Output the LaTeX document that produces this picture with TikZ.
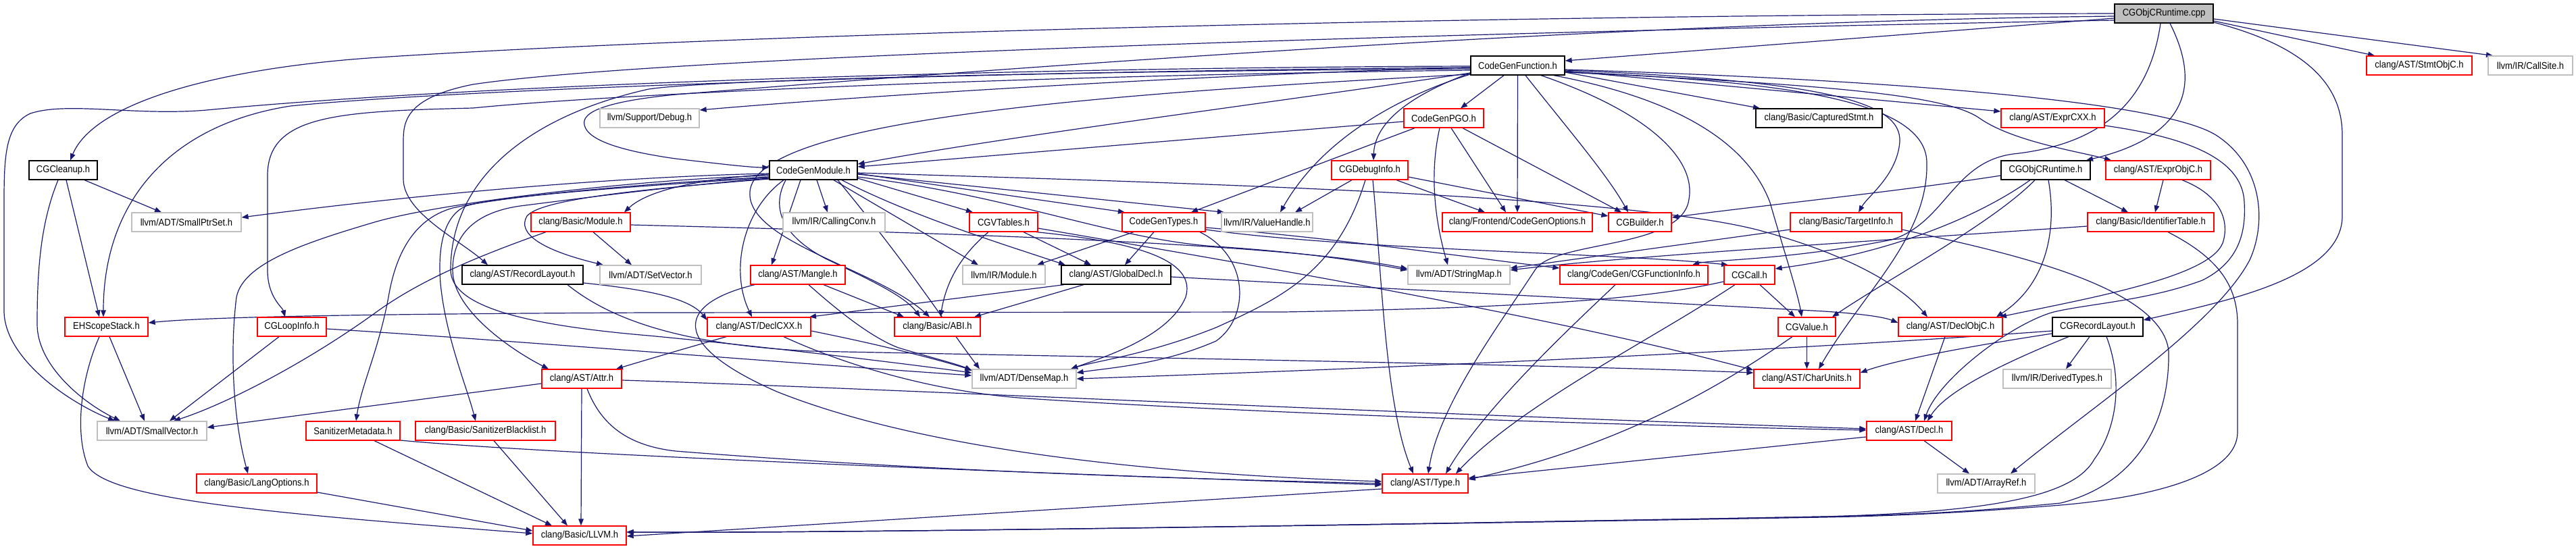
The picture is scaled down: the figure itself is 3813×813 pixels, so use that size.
\documentclass[tikz,border=0pt]{standalone}
\usepackage{fontspec}
\setmainfont{Liberation Sans}[FakeStretch=0.9]
\usetikzlibrary{arrows.meta,calc}
\definecolor{edgec}{HTML}{191970}
\definecolor{grayb}{HTML}{BFBFBF}
\pgfdeclarelayer{bg}
\pgfsetlayers{bg,main}
\begin{document}
\begin{tikzpicture}[x=0.5pt,y=-0.5pt,
  nd/.style={draw, line width=0.65pt, fill=white, minimum height=14pt, inner sep=0pt, font=\fontsize{7.25pt}{8pt}\selectfont},
  rbox/.style={nd, draw=red},
  gbox/.style={nd, draw=grayb},
  bbox/.style={nd, draw=black},
  root/.style={nd, draw=black, fill=grayb},
  edg/.style={draw=edgec, line width=0.6pt, -{Triangle[length=5pt,width=3.8pt]}}]
\useasboundingbox (0,0) rectangle (3813,813);
% row 0
\node[root, minimum width=73pt] (cpp) at (3203,20) {CGObjCRuntime.cpp};
% row 1
\node[bbox, minimum width=69.5pt] (cgf) at (2246.5,97) {CodeGenFunction.h};
\node[rbox, minimum width=78pt] (stmt) at (3581,97) {clang/AST/StmtObjC.h};
\node[gbox, minimum width=62.5pt] (callsite) at (3745.5,97) {llvm/IR/CallSite.h};
% row 2
\node[gbox, minimum width=73.5pt] (debug) at (961.5,175) {llvm/Support/Debug.h};
\node[rbox, minimum width=59pt] (pgo) at (2137,175) {CodeGenPGO.h};
\node[bbox, minimum width=93.5pt] (capt) at (2692.5,175) {clang/Basic/CapturedStmt.h};
\node[rbox, minimum width=76.5pt] (excxx) at (3038.5,175) {clang/AST/ExprCXX.h};
% row 3
\node[bbox, minimum width=50.5pt] (cleanup) at (93.5,252) {CGCleanup.h};
\node[bbox, minimum width=65pt] (cgm) at (1204,252) {CodeGenModule.h};
\node[rbox, minimum width=56.5pt] (dbginfo) at (2027.5,252) {CGDebugInfo.h};
\node[bbox, minimum width=66pt] (ortH) at (3028,252) {CGObjCRuntime.h};
\node[rbox, minimum width=77.5pt] (exobjc) at (3194.5,252) {clang/AST/ExprObjC.h};
% row 4
\node[gbox, minimum width=81pt] (sptr) at (276,329) {llvm/ADT/SmallPtrSet.h};
\node[rbox, minimum width=73.5pt] (module) at (859.5,329) {clang/Basic/Module.h};
\node[gbox, minimum width=75.5pt] (cconv) at (1234.5,329) {llvm/IR/CallingConv.h};
\node[rbox, minimum width=50.5pt] (vtables) at (1485.5,329) {CGVTables.h};
\node[rbox, minimum width=61.5pt] (types) at (1722.5,329) {CodeGenTypes.h};
\node[gbox, minimum width=67.5pt] (vhandle) at (1875.5,329) {llvm/IR/ValueHandle.h};
\node[rbox, minimum width=111pt] (cgopts) at (2246,329) {clang/Frontend/CodeGenOptions.h};
\node[rbox, minimum width=46.5pt] (builder) at (2427.5,329) {CGBuilder.h};
\node[rbox, minimum width=82.5pt] (target) at (2732.5,329) {clang/Basic/TargetInfo.h};
\node[rbox, minimum width=93.5pt] (ident) at (3183.5,329) {clang/Basic/IdentifierTable.h};
% row 5
\node[bbox, minimum width=89.5pt] (rlayout) at (773.5,407) {clang/AST/RecordLayout.h};
\node[gbox, minimum width=75pt] (setvec) at (963,407) {llvm/ADT/SetVector.h};
\node[rbox, minimum width=70pt] (mangle) at (1181,407) {clang/AST/Mangle.h};
\node[gbox, minimum width=61pt] (irmodule) at (1486,407) {llvm/IR/Module.h};
\node[bbox, minimum width=81pt] (gdecl) at (1652,407) {clang/AST/GlobalDecl.h};
\node[gbox, minimum width=75.5pt] (smap) at (2159.5,407) {llvm/ADT/StringMap.h};
\node[rbox, minimum width=109.5pt] (finfo) at (2418.5,407) {clang/CodeGen/CGFunctionInfo.h};
\node[rbox, minimum width=37.5pt] (cgcall) at (2589.5,407) {CGCall.h};
% row 6
\node[rbox, minimum width=61.5pt] (ehs) at (157.5,484) {EHScopeStack.h};
\node[rbox, minimum width=51pt] (loop) at (432,484) {CGLoopInfo.h};
\node[rbox, minimum width=76.5pt] (declcxx) at (1123.5,484) {clang/AST/DeclCXX.h};
\node[rbox, minimum width=63.5pt] (abi) at (1387.5,484) {clang/Basic/ABI.h};
\node[rbox, minimum width=42.5pt] (cgvalue) at (2674.5,484) {CGValue.h};
\node[rbox, minimum width=77pt] (declobjc) at (2887,484) {clang/AST/DeclObjC.h};
\node[bbox, minimum width=67pt] (cgrl) at (3105,484) {CGRecordLayout.h};
% row 7
\node[rbox, minimum width=59pt] (attr) at (861,561) {clang/AST/Attr.h};
\node[gbox, minimum width=77pt] (dmap) at (1516,561) {llvm/ADT/DenseMap.h};
\node[rbox, minimum width=78.5pt] (cunits) at (2674.5,561) {clang/AST/CharUnits.h};
\node[gbox, minimum width=80pt] (dtypes) at (3045,561) {llvm/IR/DerivedTypes.h};
% row 8
\node[gbox, minimum width=81pt] (svec) at (225,638) {llvm/ADT/SmallVector.h};
\node[rbox, minimum width=69.5pt] (sanmeta) at (522.5,638) {SanitizerMetadata.h};
\node[rbox, minimum width=103.5pt] (sanbl) at (718.5,638) {clang/Basic/SanitizerBlacklist.h};
\node[rbox, minimum width=63pt] (decl) at (2826,638) {clang/AST/Decl.h};
% row 9
\node[rbox, minimum width=89pt] (langopts) at (380,716) {clang/Basic/LangOptions.h};
\node[rbox, minimum width=63.5pt] (type) at (2109.5,716) {clang/AST/Type.h};
\node[gbox, minimum width=72pt] (aref) at (2940,716) {llvm/ADT/ArrayRef.h};
% row 10
\node[rbox, minimum width=69pt] (llvm) at (858,793) {clang/Basic/LLVM.h};

\begin{pgfonlayer}{bg}
\fill[white] (0,0) rectangle (3813,813);
% ---- CGObjCRuntime.cpp
\draw[edg] (cpp.west |- 0,27) -- (cgf.east |- 0,90);
\draw[edg] (cpp.east |- 0,31) -- (stmt.north -| 3515,0);
\draw[edg] (cpp.east |- 0,28) -- (callsite.north -| 3690,0);
\draw[edg] (cpp.east |- 0,33) .. controls (3420,70) and (3467,130) .. (3467,200) -- (3467,320) .. controls (3467,410) and (3300,445) .. (cgrl.east |- 0,474);
\draw[edg] (cpp.south -| 3212,0) .. controls (3255,120) and (3245,200) .. (ortH.north -| 3088,0);
\draw[edg] (cpp.south -| 3198,0) .. controls (3180,160) and (3100,215) .. (2980,228) .. controls (2890,240) and (2880,330) .. (2800,355) .. controls (2650,385) and (2530,385) .. (finfo.north -| 2505,0);
\draw[edg] (cpp.west |- 0,20) .. controls (2200,22) and (1100,50) .. (560,85) .. controls (330,100) and (140,150) .. (cleanup.north -| 104,0);
\draw[edg] (cpp.west |- 0,30) .. controls (2300,45) and (1000,80) .. (700,125) .. controls (600,145) and (597,180) .. (597,210) -- (597,265) .. controls (597,315) and (680,355) .. (rlayout.north -| 722,0);
\draw[edg] (cpp.west |- 0,24) .. controls (2400,32) and (1500,100) .. (1000,140) .. controls (900,150) and (860,165) .. (865,185) .. controls (870,210) and (930,225) .. (1000,235) .. controls (1060,242) and (1110,248) .. (cgm.west |- 0,248);
% ---- CodeGenFunction.h
\draw[edg] (cgf.south -| 2258,0) .. controls (2320,190) and (2380,260) .. (builder.north -| 2410,0);
\draw[edg] (cgf.west |- 0,108) .. controls (2090,140) and (2035,180) .. (dbginfo.north -| 2033,0);
\draw[edg] (cgf.west |- 0,104) .. controls (1500,112) and (900,140) .. (700,160) .. controls (500,165) and (396,170) .. (396,260) -- (396,400) .. controls (396,440) and (418,455) .. (loop.north -| 422,0);
\draw[edg] (cgf.south -| 2300,0) .. controls (2500,150) and (2590,220) .. (2620,300) .. controls (2640,370) and (2660,430) .. (cgvalue.north -| 2667,0);
\draw[edg] (cgf.west |- 0,108) .. controls (1900,150) and (1500,200) .. (cgm.east |- 0,243);
\draw[edg] (cgf.south -| 2226,0) -- (pgo.north -| 2162,0);
\draw[edg] (cgf.west |- 0,100) .. controls (1500,105) and (700,130) .. (430,157) .. controls (250,185) and (153,300) .. (ehs.north -| 153,0);
\draw[edg] (cgf.east |- 0,106) .. controls (2600,120) and (2850,140) .. (2852,240) .. controls (2855,350) and (2760,430) .. (cunits.north -| 2692,0);
\draw[edg] (cgf.east |- 0,105) -- (excxx.west |- 0,165);
\draw[edg] (cgf.east |- 0,107) .. controls (2700,125) and (2880,140) .. (2930,175) .. controls (2980,210) and (3080,225) .. (exobjc.north -| 3125,0);
\draw[edg] (cgf.south -| 2281,0) .. controls (2450,170) and (2510,240) .. (2500,295) .. controls (2490,370) and (2300,355) .. (2272,400) .. controls (2220,480) and (2130,600) .. (type.north -| 2114,0);
\draw[edg] (cgf.west |- 0,110) .. controls (1600,140) and (1100,180) .. (1110,290) .. controls (1115,360) and (1300,400) .. (abi.north -| 1376,0);
\draw[edg] (cgf.east |- 0,107) -- (capt.north -| 2605,0);
\draw[edg] (cgf.east |- 0,104) .. controls (2700,120) and (2815,150) .. (2812,210) .. controls (2808,260) and (2765,290) .. (target.north -| 2751,0);
\draw[edg] (cgf.south) -- (cgopts.north);
\draw[edg] (cgf.east |- 0,103) .. controls (2800,118) and (3200,150) .. (3280,200) .. controls (3350,245) and (3355,330) .. (3330,385) .. controls (3280,480) and (3100,600) .. (aref.north -| 2976,0);
\draw[edg] (cgf.west |- 0,102) .. controls (1600,105) and (1050,118) .. (960,132) .. controls (790,170) and (667,260) .. (667,400) .. controls (668,450) and (760,480) .. (960,497) .. controls (1150,515) and (1350,540) .. (dmap.west |- 0,552);
\draw[edg] (cgf.west |- 0,98) .. controls (1500,100) and (700,125) .. (306,163) .. controls (200,172) and (100,150) .. (45,168) .. controls (8,185) and (6,230) .. (6,300) -- (6,460) .. controls (6,530) and (100,595) .. (svec.north -| 170,0);
\draw[edg] (cgf.west |- 0,110) .. controls (2080,140) and (1960,200) .. (vhandle.north -| 1895,0);
\draw[edg] (cgf.west |- 0,100) .. controls (1800,110) and (1300,140) .. (debug.east |- 0,163);
% ---- CGCleanup.h
\draw[edg] (cleanup.south -| 98,0) -- (ehs.north -| 147,0);
\draw[edg] (cleanup.south -| 125,0) -- (sptr.north -| 239,0);
\draw[edg] (cleanup.south -| 86,0) .. controls (60,330) and (55,400) .. (55,480) .. controls (55,540) and (120,595) .. (svec.north -| 178,0);
% ---- CodeGenPGO.h
\draw[edg] (pgo.west |- 0,180) -- (cgm.east |- 0,247);
\draw[edg] (pgo.south -| 2094,0) -- (types.north -| 1763,0);
\draw[edg] (pgo.south -| 2148,0) -- (cgopts.north -| 2229,0);
\draw[edg] (pgo.south -| 2165,0) -- (builder.north -| 2400,0);
\draw[edg] (pgo.south -| 2131,0) .. controls (2115,260) and (2125,330) .. (smap.north -| 2143,0);
% ---- CodeGenModule.h
\draw[edg] (cgm.east |- 0,264) -- (vtables.north -| 1440,0);
\draw[edg] (cgm.east |- 0,257) -- (types.north -| 1665,0);
\draw[edg] (cgm.west |- 0,262) .. controls (950,272) and (750,290) .. (670,308) .. controls (610,325) and (585,380) .. (575,440) .. controls (560,520) and (535,570) .. (sanmeta.north -| 527,0);
\draw[edg] (cgm.west |- 0,264) .. controls (1000,275) and (850,295) .. (770,305) .. controls (700,315) and (670,350) .. (670,400) .. controls (670,460) and (760,520) .. (attr.north -| 812,0);
\draw[edg] (cgm.south -| 1160,0) .. controls (1100,310) and (1080,400) .. (declcxx.north -| 1113,0);
\draw[edg] (cgm.east |- 0,256) .. controls (1800,272) and (2400,290) .. (2600,340) .. controls (2750,380) and (2820,430) .. (declobjc.north -| 2853,0);
\draw[edg] (cgm.south -| 1246,0) .. controls (1350,320) and (1480,360) .. (gdecl.north -| 1577,0);
\draw[edg] (cgm.south -| 1185,0) -- (mangle.north -| 1142,0);
\draw[edg] (cgm.south -| 1163,0) .. controls (1140,310) and (1160,350) .. (1222,383) .. controls (1300,420) and (1340,440) .. (abi.north -| 1362,0);
\draw[edg] (cgm.west |- 0,260) .. controls (950,265) and (650,300) .. (551,330) .. controls (450,360) and (360,390) .. (350,440) .. controls (340,520) and (345,620) .. (langopts.north -| 367,0);
\draw[edg] (cgm.west |- 0,258) .. controls (1000,268) and (950,290) .. (module.north -| 924,0);
\draw[edg] (cgm.west |- 0,263) .. controls (950,275) and (740,290) .. (690,305) .. controls (655,320) and (648,370) .. (652,420) .. controls (660,500) and (690,570) .. (sanbl.north -| 704,0);
\draw[edg] (cgm.south -| 1240,0) .. controls (1350,400) and (1400,480) .. (dmap.north -| 1450,0);
\draw[edg] (cgm.west |- 0,265) .. controls (950,280) and (800,295) .. (780,320) .. controls (765,345) and (800,370) .. (setvec.north -| 893,0);
\draw[edg] (cgm.west |- 0,257) .. controls (900,262) and (600,290) .. (sptr.east |- 0,322);
\draw[edg] (cgm.east |- 0,262) .. controls (1500,290) and (1650,355) .. (1800,365) .. controls (1950,375) and (2030,390) .. (smap.west |- 0,400);
\draw[edg] (cgm.south -| 1209,0) -- (cconv.north -| 1225,0);
\draw[edg] (cgm.south -| 1234,0) -- (irmodule.north -| 1448,0);
\draw[edg] (cgm.east |- 0,258) -- (vhandle.north -| 1812,0);
% ---- CGDebugInfo.h
\draw[edg] (dbginfo.east |- 0,262) -- (builder.west |- 0,320);
\draw[edg] (dbginfo.south -| 2032,0) .. controls (2045,400) and (2050,600) .. (type.north -| 2092,0);
\draw[edg] (dbginfo.south -| 2067,0) -- (cgopts.north -| 2198,0);
\draw[edg] (dbginfo.south -| 2021,0) .. controls (1980,400) and (1900,440) .. (1800,485) .. controls (1700,525) and (1620,535) .. (dmap.north -| 1585,0);
\draw[edg] (dbginfo.south -| 2001,0) -- (vhandle.north -| 1917,0);
% ---- CGObjCRuntime.h
\draw[edg] (ortH.west |- 0,260) .. controls (2800,285) and (2600,305) .. (builder.east |- 0,322);
\draw[edg] (ortH.south -| 3005,0) .. controls (2930,320) and (2800,375) .. (cgcall.east |- 0,398);
\draw[edg] (ortH.south -| 3012,0) .. controls (2950,330) and (2800,410) .. (cgvalue.north -| 2712,0);
\draw[edg] (ortH.south -| 3032,0) .. controls (3045,340) and (3030,420) .. (declobjc.north -| 2955,0);
\draw[edg] (ortH.south -| 3056,0) -- (ident.north -| 3150,0);
% ---- ExprCXX / ExprObjC
\draw[edg] (excxx.east |- 0,186) .. controls (3250,205) and (3320,240) .. (3322,300) .. controls (3325,350) and (3310,390) .. (3260,415) .. controls (3180,445) and (3090,450) .. (3040,462) .. controls (2980,478) and (2870,560) .. (decl.north -| 2848,0);
\draw[edg] (exobjc.south -| 3230,0) .. controls (3290,290) and (3300,330) .. (3290,360) .. controls (3270,410) and (3100,440) .. (declobjc.north -| 2960,0);
\draw[edg] (exobjc.south -| 3202,0) -- (ident.north -| 3190,0);
% ---- Module.h
\draw[edg] (module.south -| 878,0) -- (setvec.north -| 935,0);
\draw[edg] (module.south -| 808,0) .. controls (720,375) and (630,410) .. (560,460) .. controls (450,540) and (330,600) .. (svec.north -| 257,0);
\draw[edg] (module.east |- 0,333) .. controls (1400,345) and (1900,360) .. (smap.west |- 0,398);
% ---- CGVTables.h
\draw[edg] (vtables.east |- 0,338) .. controls (1900,400) and (2300,470) .. (cunits.west |- 0,548);
\draw[edg] (vtables.south -| 1515,0) -- (gdecl.north -| 1615,0);
\draw[edg] (vtables.south -| 1463,0) .. controls (1420,380) and (1400,420) .. (abi.north -| 1392,0);
\draw[edg] (vtables.south -| 1534,0) .. controls (1700,360) and (1770,390) .. (1755,440) .. controls (1730,500) and (1630,530) .. (dmap.north -| 1585,0);
% ---- CodeGenTypes.h
\draw[edg] (types.east |- 0,340) .. controls (2000,370) and (2400,375) .. (cgcall.north -| 2558,0);
\draw[edg] (types.south -| 1708,0) -- (gdecl.north -| 1665,0);
\draw[edg] (types.east |- 0,337) .. controls (2000,355) and (2200,385) .. (finfo.west |- 0,397);
\draw[edg] (types.south -| 1776,0) .. controls (1850,380) and (1850,470) .. (1800,505) .. controls (1720,540) and (1640,545) .. (dmap.east |- 0,552);
\draw[edg] (types.south -| 1678,0) -- (irmodule.north -| 1535,0);
% ---- TargetInfo / IdentifierTable
\draw[edg] (target.west |- 0,340) -- (smap.east |- 0,397);
\draw[edg] (target.east |- 0,340) .. controls (2950,370) and (3200,420) .. (3210,520) .. controls (3212,640) and (3150,720) .. (3050,745) .. controls (2900,760) and (2800,763) .. (2700,765) .. controls (2000,778) and (1200,790) .. (llvm.east |- 0,788);
\draw[edg] (ident.west |- 0,335) .. controls (2800,355) and (2400,380) .. (smap.east |- 0,400);
\draw[edg] (ident.south -| 3209,0) .. controls (3280,380) and (3312,420) .. (3312,480) -- (3312,640) .. controls (3312,700) and (3200,735) .. (3050,748) .. controls (2900,760) and (2800,764) .. (2700,766) .. controls (2000,778) and (1200,790) .. (llvm.east |- 0,788);
% ---- RecordLayout.h
\draw[edg] (rlayout.east |- 0,419) .. controls (950,428) and (1020,440) .. (declcxx.west |- 0,474);
\draw[edg] (rlayout.south -| 840,0) .. controls (900,470) and (1000,510) .. (1200,520) .. controls (1700,530) and (2300,540) .. (cunits.west |- 0,552);
% ---- Mangle.h
\draw[edg] (mangle.south -| 1117,0) .. controls (1000,450) and (990,510) .. (1150,580) .. controls (1400,680) and (1800,705) .. (type.west |- 0,713);
\draw[edg] (mangle.south -| 1197,0) .. controls (1240,460) and (1290,500) .. (1330,515) .. controls (1380,530) and (1420,540) .. (dmap.west |- 0,549);
\draw[edg] (mangle.south -| 1219,0) -- (abi.north -| 1338,0);
% ---- GlobalDecl.h
\draw[edg] (gdecl.south -| 1575,0) -- (declcxx.north -| 1198,0);
\draw[edg] (gdecl.south -| 1604,0) -- (abi.north -| 1442,0);
\draw[edg] (gdecl.east |- 0,410) .. controls (2100,430) and (2500,450) .. (2700,461) .. controls (2760,465) and (2790,470) .. (declobjc.west |- 0,478);
% ---- CGFunctionInfo / CGCall
\draw[edg] (finfo.south -| 2391,0) .. controls (2330,480) and (2200,600) .. (type.north -| 2140,0);
\draw[edg] (cgcall.south -| 2605,0) -- (cgvalue.north -| 2657,0);
\draw[edg] (cgcall.south -| 2568,0) .. controls (2450,500) and (2250,600) .. (type.north -| 2155,0);
\draw[edg] (cgcall.west |- 0,417) .. controls (2450,440) and (2300,455) .. (1900,462) -- (960,463) .. controls (500,465) and (300,470) .. (ehs.east |- 0,478);
% ---- EHScopeStack / CGLoopInfo
\draw[edg] (ehs.south -| 162,0) -- (svec.north -| 214,0);
\draw[edg] (ehs.south -| 147,0) .. controls (120,560) and (110,640) .. (130,690) .. controls (160,740) and (400,760) .. (llvm.west |- 0,790);
\draw[edg] (loop.south -| 413,0) -- (svec.north -| 251,0);
\draw[edg] (loop.east |- 0,487) .. controls (700,500) and (1200,540) .. (dmap.west |- 0,556);
% ---- DeclCXX
\draw[edg] (declcxx.south -| 1075,0) .. controls (1000,520) and (950,535) .. (attr.north -| 912,0);
\draw[edg] (declcxx.south -| 1160,0) .. controls (1250,540) and (1380,580) .. (1520,590) .. controls (1900,615) and (2500,632) .. (decl.west |- 0,637);
\draw[edg] (declcxx.east |- 0,490) .. controls (1300,510) and (1380,530) .. (dmap.west |- 0,548);
% ---- CGValue / DeclObjC
\draw[edg] (cgvalue.south) -- (cunits.north);
\draw[edg] (cgvalue.south -| 2653,0) .. controls (2550,570) and (2400,660) .. (type.east |- 0,710);
\draw[edg] (declobjc.south -| 2879,0) -- (decl.north -| 2835,0);
% ---- CGRecordLayout.h
\draw[edg] (cgrl.west |- 0,494) .. controls (2900,515) and (2800,535) .. (cunits.east |- 0,552);
\draw[edg] (cgrl.west |- 0,490) .. controls (2700,515) and (2200,540) .. (dmap.east |- 0,561);
\draw[edg] (cgrl.south -| 3062,0) .. controls (2960,540) and (2880,580) .. (decl.north -| 2853,0);
\draw[edg] (cgrl.south -| 3093,0) -- (dtypes.north -| 3058,0);
\draw[edg] (cgrl.south -| 3118,0) .. controls (3145,570) and (3130,640) .. (3100,680) .. controls (3070,735) and (2950,758) .. (2700,765) .. controls (2000,778) and (1200,790) .. (llvm.east |- 0,788);
% ---- Attr.h
\draw[edg] (attr.west |- 0,568) -- (svec.east |- 0,633);
\draw[edg] (attr.south) -- (llvm.north -| 860,0);
\draw[edg] (attr.south -| 869,0) .. controls (890,630) and (930,660) .. (1000,668) .. controls (1400,700) and (1800,710) .. (type.west |- 0,716);
\draw[edg] (attr.east |- 0,563) .. controls (1300,575) and (2000,610) .. (decl.west |- 0,635);
% ---- Sanitizer*, Decl, LangOptions, Type
\draw[edg] (sanmeta.south -| 554,0) -- (llvm.north -| 817,0);
\draw[edg] (sanmeta.east |- 0,652) .. controls (800,672) and (1500,700) .. (type.west |- 0,718);
\draw[edg] (sanbl.south -| 731,0) -- (llvm.north -| 840,0);
\draw[edg] (decl.south -| 2848,0) -- (aref.north -| 2915,0);
\draw[edg] (decl.west |- 0,647) -- (type.east |- 0,708);
\draw[edg] (langopts.east |- 0,729) -- (llvm.west |- 0,786);
\draw[edg] (type.west |- 0,724) -- (llvm.east |- 0,794);
\end{pgfonlayer}
\end{tikzpicture}
\end{document}
